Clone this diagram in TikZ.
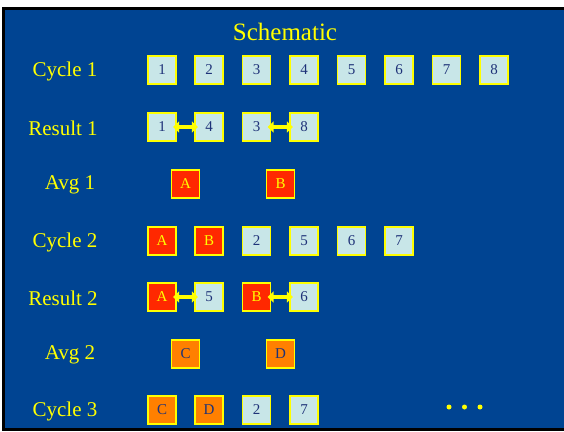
\documentclass[tikz,border=0pt]{standalone}
\usepackage{fontspec}
\setmainfont{Liberation Serif}
\usetikzlibrary{arrows.meta}
\definecolor{slideblue}{RGB}{0,68,146}
\definecolor{cellfill}{RGB}{200,230,232}
\definecolor{cellred}{RGB}{255,40,0}
\definecolor{cellorange}{RGB}{255,128,0}
\definecolor{celltext}{RGB}{30,50,120}
\definecolor{hilite}{RGB}{255,255,0}
\tikzset{
  cell/.style={draw=hilite, line width=1.2pt, minimum size=28pt, inner sep=0pt,
    font=\fontsize{15}{15}\selectfont},
  plain/.style={cell, fill=cellfill, text=celltext},
  hot/.style={cell, fill=cellred, text=hilite},
  warm/.style={cell, fill=cellorange, text=celltext},
  rowlabel/.style={text=hilite, font=\fontsize{21}{21}\selectfont},
  swap/.style={draw=hilite, line width=4pt, shorten <=-3.5pt, shorten >=-3.5pt,
    {Triangle[width=11pt,length=6pt]}-{Triangle[width=11pt,length=6pt]}},
  dot/.style={circle, fill=hilite, inner sep=0pt, minimum size=5pt}
}
\begin{document}
\begin{tikzpicture}[x=1pt,y=-1pt]
  % page and slide frame
  \fill[white] (0,0) rectangle (564,431);
  \useasboundingbox (0,0) rectangle (564,431);
  \fill[black] (2,7) rectangle (570,431);
  \fill[slideblue] (5,10) rectangle (570,428);

  \node[text=hilite, font=\fontsize{25}{25}\selectfont] (title) at (285,32) {Schematic};

  % row labels
  \node[rowlabel] (l1) at (65,71)  {Cycle 1};
  \node[rowlabel] (l2) at (63,128) {Result 1};
  \node[rowlabel] (l3) at (70,185) {Avg 1};
  \node[rowlabel] (l4) at (65,242) {Cycle 2};
  \node[rowlabel] (l5) at (63,298) {Result 2};
  \node[rowlabel] (l6) at (70,355) {Avg 2};
  \node[rowlabel] (l7) at (65,411) {Cycle 3};

  % cycle 1
  \foreach \k/\x in {1/162,2/209,3/256.5,4/304,5/351.5,6/399,7/446.5,8/494}
    \node[plain] (c1n\k) at (\x,70) {\k};

  % result 1
  \node[plain] (r1a) at (162,127) {1};
  \node[plain] (r1b) at (209,127) {4};
  \node[plain] (r1c) at (256.5,127) {3};
  \node[plain] (r1d) at (304,127) {8};
  \draw[swap] (r1a.east) -- (r1b.west);
  \draw[swap] (r1c.east) -- (r1d.west);

  % avg 1
  \node[hot] (a1a) at (185.5,184) {A};
  \node[hot] (a1b) at (280.5,184) {B};

  % cycle 2
  \node[hot] (c2a) at (162,241) {A};
  \node[hot] (c2b) at (209,241) {B};
  \node[plain] (c2c) at (256.5,241) {2};
  \node[plain] (c2d) at (304,241) {5};
  \node[plain] (c2e) at (351.5,241) {6};
  \node[plain] (c2f) at (399,241) {7};

  % result 2
  \node[hot] (r2a) at (162,297) {A};
  \node[plain] (r2b) at (209,297) {5};
  \node[hot] (r2c) at (256.5,297) {B};
  \node[plain] (r2d) at (304,297) {6};
  \draw[swap] (r2a.east) -- (r2b.west);
  \draw[swap] (r2c.east) -- (r2d.west);

  % avg 2
  \node[warm] (a2a) at (185.5,354) {C};
  \node[warm] (a2b) at (280.5,354) {D};

  % cycle 3
  \node[warm] (c3a) at (162,410) {C};
  \node[warm] (c3b) at (209,410) {D};
  \node[plain] (c3c) at (256.5,410) {2};
  \node[plain] (c3d) at (304,410) {7};

  \node[dot] (d1) at (449,407) {};
  \node[dot] (d2) at (464.5,407) {};
  \node[dot] (d3) at (480,407) {};
\end{tikzpicture}
\end{document}
